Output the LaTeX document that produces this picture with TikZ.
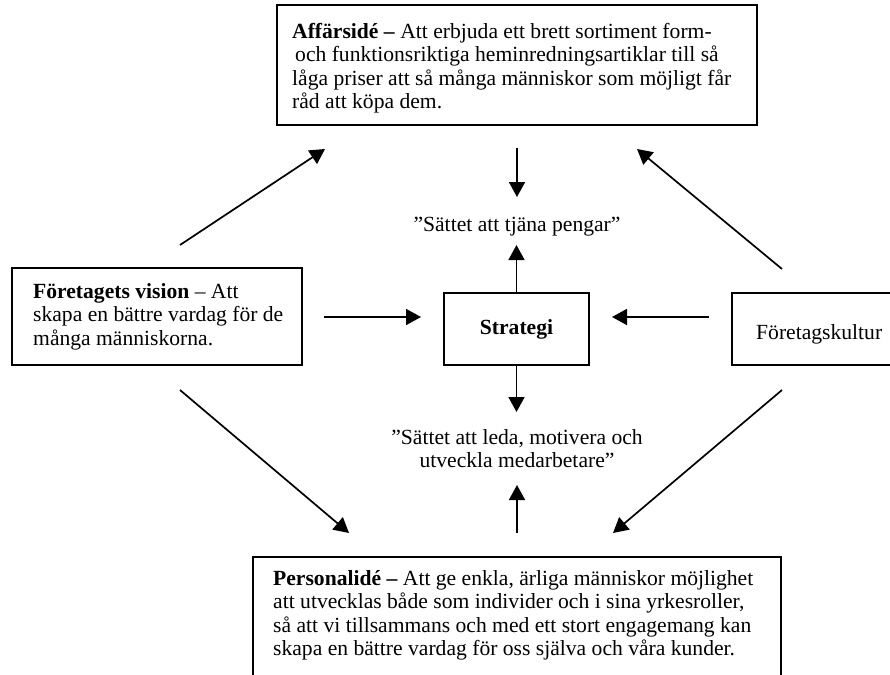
\documentclass[tikz,border=0pt]{standalone}
\usepackage{fontspec}
\setmainfont{Liberation Serif}
\usetikzlibrary{arrows.meta}
\begin{document}
\begin{tikzpicture}[x=1pt,y=-1pt,
  box/.style={draw, line width=2pt, inner sep=0pt},
  arr/.style={line width=1.7pt, -{Triangle[length=15pt,width=16pt]}},
  txt/.style={inner sep=0pt, font=\fontsize{21.6}{23.5}\selectfont},
]
\useasboundingbox (0,0) rectangle (890,674);
\begin{scope}
\clip (0,0) rectangle (890,674);
% boxes
\node[box, minimum width=480pt, minimum height=120pt] (aff) at (517,65) {};
\node[box, minimum width=290pt, minimum height=97pt] (vis) at (157,316.5) {};
\node[box, minimum width=145pt, minimum height=72pt, font=\fontsize{21.6}{23}\selectfont\bfseries] (strat) at (516.5,329) {Strategi};
\node[box, minimum width=168pt, minimum height=72pt] (kult) at (816,329) {};
\node[box, minimum width=528pt, minimum height=143pt] (pers) at (517,628.5) {};
\end{scope}
% texts (first baseline minus 0.7 baselineskip)
\node[txt, anchor=north west, align=left] (afftxt) at (292,38-16.45)
  {\strut\textbf{Affärsidé –} Att erbjuda ett brett sortiment form-\\
   \hspace*{3pt}och funktionsriktiga heminredningsartiklar till så\\
   låga priser att så många människor som möjligt får\\
   råd att köpa dem.};
\node[txt, anchor=north west, align=left] (vistxt) at (33,298-16.45)
  {\strut\textbf{Företagets vision} – Att\\
   skapa en bättre vardag för de\\
   många människorna.};
\node[txt, anchor=base west] (kulttxt) at (756,339) {Företagskultur};
\node[txt, anchor=base] (money) at (517,231) {”Sättet att tjäna pengar”};
\node[txt, anchor=north, align=center] (lead) at (517,444-16.45)
  {\strut”Sättet att leda, motivera och\\utveckla medarbetare”};
\node[txt, anchor=north west, align=left] (perstxt) at (273,585-16.45)
  {\strut\textbf{Personalidé –} Att ge enkla, ärliga människor möjlighet\\
   att utvecklas både som individer och i sina yrkesroller,\\
   så att vi tillsammans och med ett stort engagemang kan\\
   skapa en bättre vardag för oss själva och våra kunder.};
% connector end points
\coordinate (tlA) at (180,245);  \coordinate (tlB) at (325,149);
\coordinate (trA) at (782,269);  \coordinate (trB) at (637,149);
\coordinate (tcA) at (517,148);  \coordinate (tcB) at (517,197);
\coordinate (suB) at (516.5,245);
\coordinate (lhA) at (324,317);  \coordinate (lhB) at (421,317);
\coordinate (rhA) at (709,317);  \coordinate (rhB) at (612,317);
\coordinate (sdB) at (516.5,412);
\coordinate (buA) at (517,533);  \coordinate (buB) at (517,485);
\coordinate (blA) at (180,390);  \coordinate (blB) at (349,533);
\coordinate (brA) at (782,390);  \coordinate (brB) at (613,533);
% connectors
\draw[arr] (tlA) -- (tlB);
\draw[arr] (trA) -- (trB);
\draw[arr] (tcA) -- (tcB);
\draw[arr] (strat.north) -- (suB);
\draw[arr] (lhA) -- (lhB);
\draw[arr] (rhA) -- (rhB);
\draw[arr] (strat.south) -- (sdB);
\draw[arr] (buA) -- (buB);
\draw[arr] (blA) -- (blB);
\draw[arr] (brA) -- (brB);
\end{tikzpicture}
\end{document}
